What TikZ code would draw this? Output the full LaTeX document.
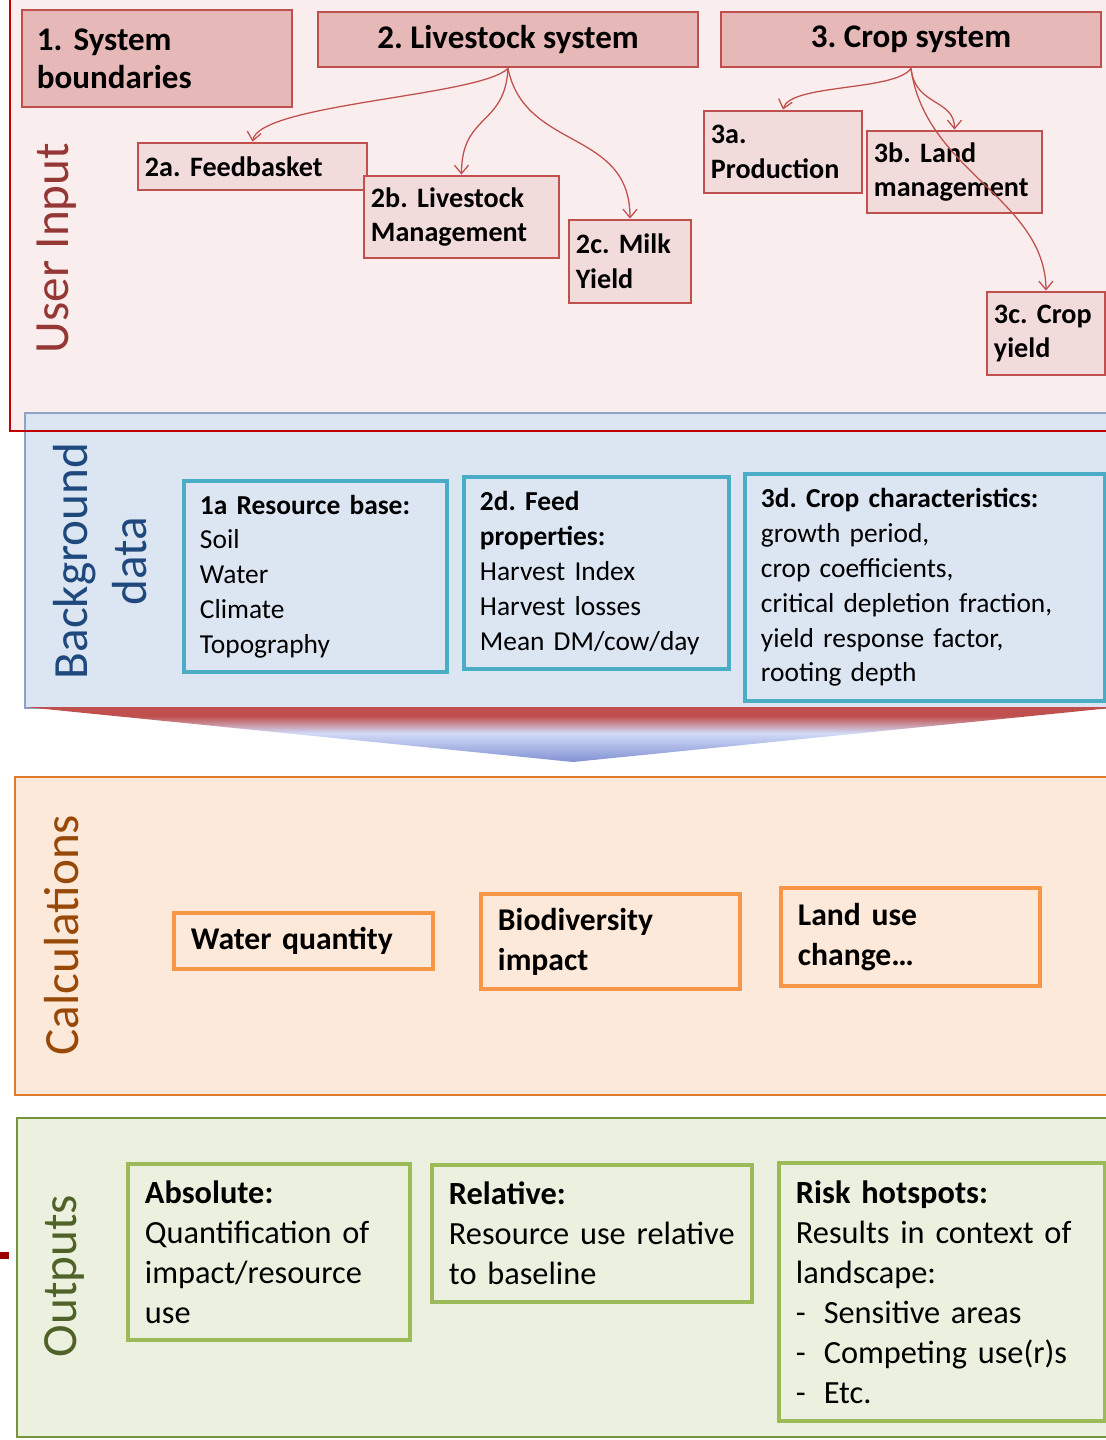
\documentclass[tikz,border=0pt]{standalone}
\usepackage{fontspec}
\setmainfont{Carlito}
\usetikzlibrary{arrows.meta}

\definecolor{panelred}{HTML}{C00000}
\definecolor{panelpink}{HTML}{F9EDED}
\definecolor{boxedge}{HTML}{C0504D}
\definecolor{boxdark}{HTML}{E6B9B8}
\definecolor{boxlight}{HTML}{F2DCDB}
\definecolor{panelblue}{HTML}{DCE6F2}
\definecolor{edgeblue}{HTML}{8FA3C4}
\definecolor{datateal}{HTML}{4BACC6}
\definecolor{calcorange}{HTML}{E07A28}
\definecolor{calcfill}{HTML}{FDE9D9}
\definecolor{boxorange}{HTML}{F79646}
\definecolor{outgreen}{HTML}{77933C}
\definecolor{outfill}{HTML}{EBF1DE}
\definecolor{boxgreen}{HTML}{9BBB59}
\definecolor{inlabel}{HTML}{953735}
\definecolor{datalabel}{HTML}{1F497D}
\definecolor{calclabel}{HTML}{984807}
\definecolor{outlabel}{HTML}{4F6228}
\definecolor{chevtop}{HTML}{C0504D}
\definecolor{chevmid}{HTML}{D0DAF7}
\definecolor{chevbot}{HTML}{7F8FD0}

\newcommand{\riskitem}{\makebox[19.8pt][l]{-}}
\frenchspacing

\begin{document}
\begin{tikzpicture}[
    x=0.025cm, y=-0.025cm,
    topbox/.style={draw=boxedge, fill=boxdark, line width=2pt, inner ysep=0pt, font=\fontsize{23.5}{27}\selectfont\bfseries},
    subbox/.style={draw=boxedge, fill=boxlight, line width=2pt, inner xsep=0.175cm, inner ysep=0pt, align=left, font=\fontsize{20}{24.8}\selectfont\bfseries},
    databox/.style={draw=datateal, fill=panelblue, line width=2.5pt, inner xsep=0.4cm, inner ysep=0pt, align=left, font=\fontsize{19.5}{24.8}\selectfont},
    calcbox/.style={draw=boxorange, fill=calcfill, line width=2.5pt, inner xsep=0.425cm, inner ysep=0pt, align=left, font=\fontsize{22.5}{28.4}\selectfont\bfseries},
    outbox/.style={draw=boxgreen, fill=outfill, line width=2.5pt, inner xsep=0.425cm, inner ysep=0pt, align=left, font=\fontsize{23}{28.4}\selectfont},
    sidelabel/.style={rotate=90, align=center, font=\fontsize{35}{42.5}\selectfont},
    arrow/.style={draw=boxedge, line width=0.9pt, -{Straight Barb[length=6pt,width=10pt]}}
]
    \useasboundingbox (0,0) rectangle (1105,1440);

    \fill[panelpink] (10,-5) rectangle (1115,431);
    \draw[edgeblue, fill=panelblue, line width=2pt] (25,413) rectangle (1115,708);
    \draw[panelred, line width=2pt] (10,-5) rectangle (1115,431);
    \begin{scope}
        \clip (25,707) -- (1121,707) -- (573,762) -- cycle;
        \fill[chevtop] (25,707) rectangle (1121,716);
        \shade[top color=chevtop, bottom color=chevmid] (25,716) rectangle (1121,733);
        \shade[top color=chevmid, bottom color=chevbot] (25,733) rectangle (1121,763);
    \end{scope}
    \draw[calcorange, fill=calcfill, line width=2pt] (15,777) rectangle (1115,1095);
    \draw[outgreen, fill=outfill, line width=2pt] (17,1118) rectangle (1115,1437);
    \fill[panelred!80!black] (0,1252) rectangle (9,1259);

    \node[sidelabel, text=inlabel] (uilabel) at (57,248) {User Input};
    \node[sidelabel, text=datalabel] (bglabel) at (100,561) {Background\\data};
    \node[sidelabel, text=calclabel] (calabel) at (62,935) {Calculations};
    \node[sidelabel, text=outlabel] (oulabel) at (64,1276) {Outputs};

    \node[topbox, align=left, inner xsep=0.375cm, minimum width=6.75cm, minimum height=2.425cm, text width=6.0cm] (sysb) at (157,58.5) {1. System\\boundaries};
    \node[topbox, minimum width=9.5cm, minimum height=1.375cm] (ls) at (508,39.5) {2. Livestock system};
    \node[topbox, minimum width=9.5cm, minimum height=1.375cm] (cs) at (911,39.5) {3. Crop system};

    \node[subbox, minimum width=5.725cm, minimum height=1.175cm, text width=5.375cm] (fb) at (252.5,166.5) {2a. Feedbasket};
    \node[subbox, minimum width=4.875cm, minimum height=2.05cm, text width=4.525cm] (lm) at (461.5,217) {2b. Livestock\\Management};
    \node[subbox, minimum width=3.05cm, minimum height=2.075cm, text width=2.7cm] (my) at (630,261.5) {2c. Milk\\Yield};
    \node[subbox, minimum width=3.95cm, minimum height=2.05cm, text width=3.6cm] (pr) at (783,152) {3a.\\Production};
    \node[subbox, minimum width=4.375cm, minimum height=2.05cm, text width=4.025cm] (lmg) at (954.5,172) {3b. Land\\management};
    \node[subbox, minimum width=2.95cm, minimum height=2.075cm, text width=2.6cm] (cy) at (1046,333.5) {3c. Crop\\yield};

    \node[databox, minimum width=6.575cm, minimum height=4.775cm, text width=5.775cm] (rb) at (315.5,576.5) {\textbf{1a Resource base:}\\Soil\\Water\\Climate\\Topography};
    \node[databox, minimum width=6.625cm, minimum height=4.8cm, text width=5.825cm] (fp) at (596.5,573) {\textbf{2d. Feed}\\\textbf{properties:}\\Harvest Index\\Harvest losses\\Mean DM/cow/day};
    \node[databox, minimum width=9.0cm, minimum height=5.675cm, text width=8.2cm] (cc) at (925,587.5) {\textbf{3d. Crop characteristics:}\\growth period,\\crop coefficients,\\critical depletion fraction,\\yield response factor,\\rooting depth};

    \node[calcbox, minimum width=6.475cm, minimum height=1.4cm, text width=5.625cm] (wq) at (303.5,941) {Water quantity};
    \node[calcbox, minimum width=6.475cm, minimum height=2.375cm, text width=5.625cm] (bi) at (610.5,941.5) {Biodiversity\\impact};
    \node[calcbox, minimum width=6.475cm, minimum height=2.45cm, text width=5.625cm] (lu) at (910.5,937) {Land use\\change…};

    \node[outbox, minimum width=7.05cm, minimum height=4.4cm, text width=6.2cm] (ab) at (269,1252) {\textbf{Absolute:}\\Quantification of\\impact/resource\\use};
    \node[outbox, minimum width=8.0cm, minimum height=3.425cm, text width=7.15cm] (rl) at (592,1233.5) {\textbf{Relative:}\\Resource use relative\\to baseline};
    \node[outbox, minimum width=8.15cm, minimum height=6.45cm, text width=7.3cm] (rh) at (942,1292) {\textbf{Risk hotspots:}\\Results in context of\\landscape:\\\riskitem Sensitive areas\\\riskitem Competing use(r)s\\\riskitem Etc.};

    \draw[arrow] (ls.south) .. controls +(-28,28) and +(7,-38) .. (fb.north);
    \draw[arrow] (ls.south) .. controls +(-3,58) and +(0,-61) .. (lm.north);
    \draw[arrow] (ls.south) .. controls +(17,83) and +(0,-90) .. (my.north);
    \draw[arrow] (cs.south) .. controls +(-16,23) and +(7,-26) .. (pr.north);
    \draw[arrow] (cs.south) .. controls +(4,38) and +(0,-31) .. (lmg.north);
    \draw[arrow] (cs.south) .. controls +(14,103) and +(-1,-92) .. (cy.north);
\end{tikzpicture}
\end{document}
